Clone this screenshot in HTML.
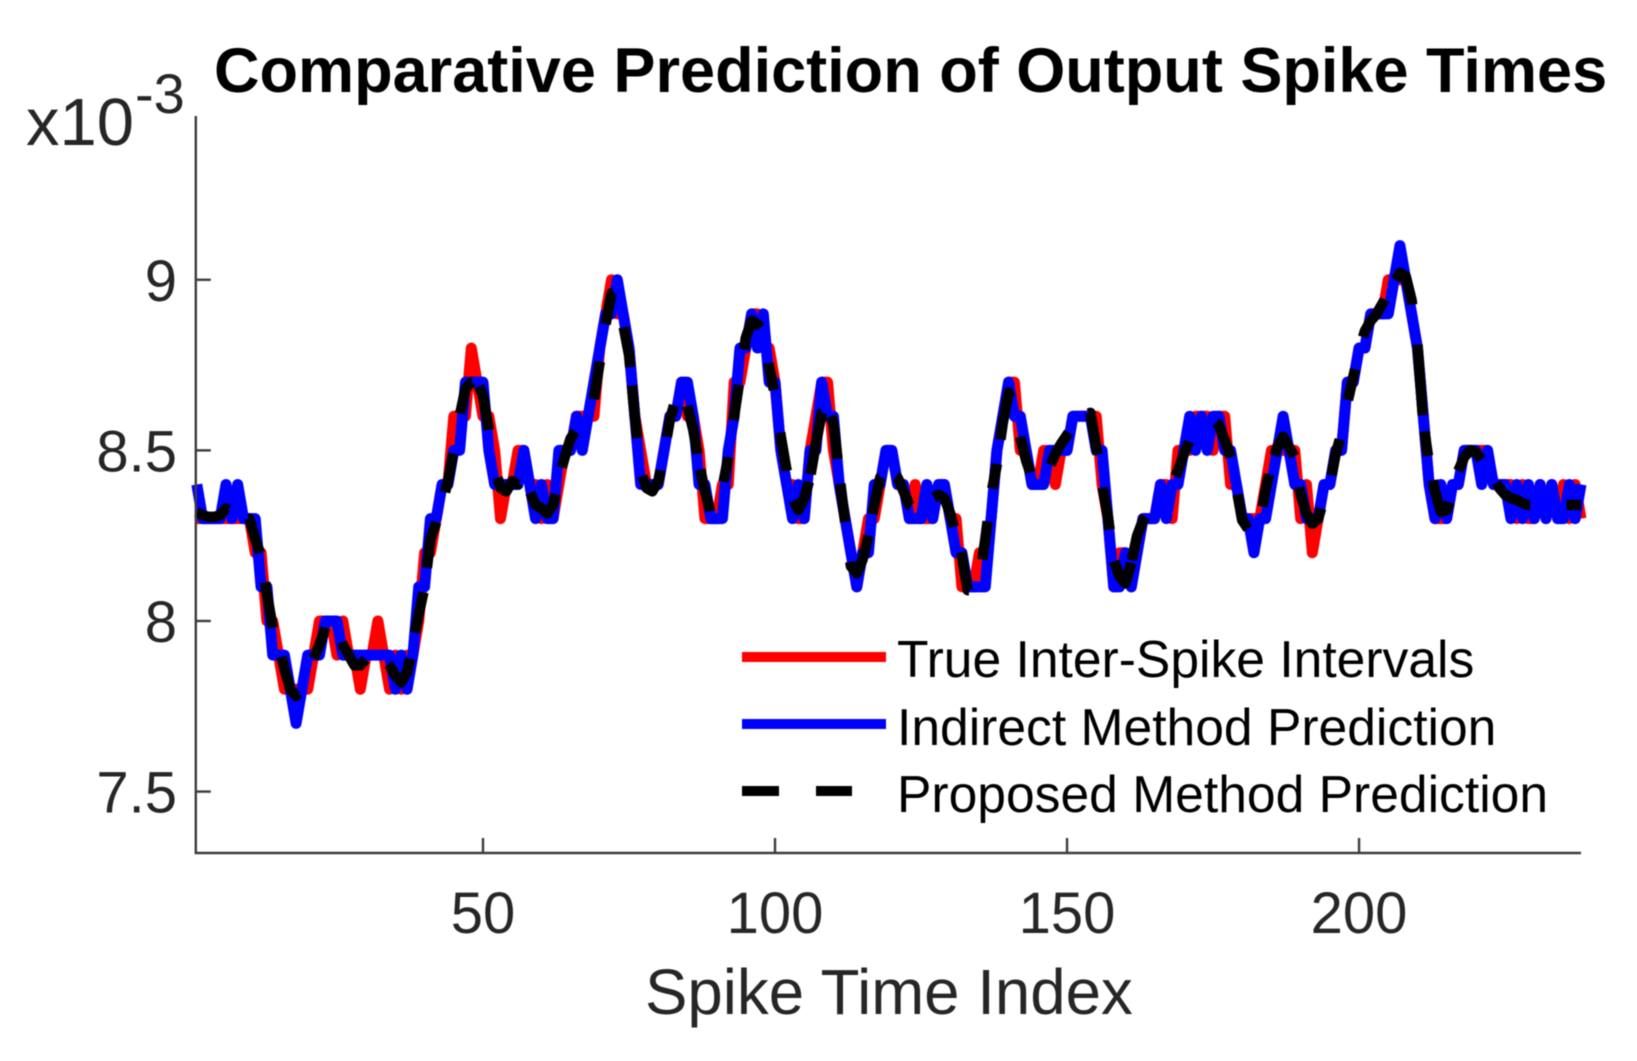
<!DOCTYPE html>
<html lang="en">
<head>
<meta charset="utf-8">
<title>Comparative Prediction of Output Spike Times</title>
<style>
html,body{margin:0;padding:0;background:#fff;}
svg{display:block;font-family:"Liberation Sans",Arial,sans-serif;filter:blur(0.5px);}
</style>
</head>
<body>
<svg id="chart" xmlns="http://www.w3.org/2000/svg" width="1637" height="1061" viewBox="0 0 1637 1061">
  <rect x="0" y="0" width="1637" height="1061" fill="#fff"/>
  <g id="series"></g>
  <g id="axes"></g>
  <text x="214" y="92" font-size="63.05" font-weight="700" fill="#000">Comparative Prediction of Output Spike Times</text>
  <text x="645" y="1014" font-size="63.6" fill="#262626">Spike Time Index</text>
  <text x="26" y="145" font-size="67" fill="#262626">x10</text>
  <text x="135" y="113" font-size="56" fill="#262626">-3</text>
  <g>
    <g>
      <line x1="742" y1="657" x2="886" y2="657" stroke="#ff0000" stroke-width="10"/>
      <text x="897" y="677" font-size="51.6" fill="#000">True Inter-Spike Intervals</text>
    </g>
    <g>
      <line x1="742" y1="724" x2="886" y2="724" stroke="#0000ff" stroke-width="10"/>
      <text x="897" y="745" font-size="51.6" fill="#000">Indirect Method Prediction</text>
    </g>
    <g>
      <line x1="742" y1="791" x2="852" y2="791" stroke="#000" stroke-width="10" stroke-dasharray="37 37"/>
      <text x="897" y="812" font-size="51.6" fill="#000">Proposed Method Prediction</text>
    </g>
  </g>
</svg>
<script>
const xTicks = [50, 100, 150, 200];
const yTicks = [7.5, 8, 8.5, 9];
const yTickLabels = ["7.5", "8", "8.5", "9"];

const trueIntervals = [
8.3,8.3,8.3,8.3,8.3,8.3,8.3,8.3,8.3,8.3,
8.2,8.2,8.0,8.0,7.9,7.8,7.8,7.8,7.8,7.8,
7.9,8.0,8.0,8.0,7.9,8.0,7.9,7.9,7.8,7.9,
7.9,8.0,7.9,7.8,7.9,7.8,7.9,7.9,8.0,8.2,
8.2,8.3,8.4,8.4,8.6,8.6,8.6,8.8,8.7,8.6,
8.6,8.5,8.3,8.4,8.4,8.5,8.5,8.4,8.4,8.3,
8.4,8.3,8.4,8.5,8.5,8.6,8.6,8.6,8.6,8.8,
8.9,9.0,8.9,8.9,8.8,8.6,8.5,8.4,8.4,8.4,
8.5,8.6,8.6,8.7,8.6,8.6,8.5,8.3,8.3,8.3,
8.4,8.4,8.7,8.7,8.8,8.9,8.9,8.8,8.8,8.7,
8.5,8.4,8.4,8.3,8.3,8.5,8.6,8.7,8.7,8.5,
8.4,8.3,8.2,8.1,8.2,8.3,8.3,8.4,8.5,8.5,
8.4,8.4,8.3,8.4,8.3,8.3,8.3,8.4,8.4,8.3,
8.3,8.1,8.1,8.1,8.2,8.2,8.3,8.5,8.6,8.7,
8.7,8.5,8.5,8.4,8.4,8.5,8.5,8.4,8.5,8.5,
8.6,8.6,8.6,8.6,8.6,8.4,8.3,8.1,8.2,8.2,
8.1,8.2,8.3,8.3,8.3,8.4,8.4,8.3,8.5,8.5,
8.5,8.6,8.6,8.6,8.5,8.6,8.6,8.4,8.4,8.3,
8.3,8.3,8.3,8.4,8.5,8.5,8.5,8.5,8.5,8.3,
8.4,8.2,8.3,8.4,8.4,8.5,8.5,8.7,8.7,8.8,
8.8,8.9,8.9,8.9,9.0,9.0,9.0,9.0,8.9,8.8,
8.6,8.4,8.3,8.3,8.3,8.4,8.4,8.5,8.5,8.5,
8.5,8.5,8.4,8.4,8.4,8.4,8.3,8.4,8.3,8.3,
8.4,8.3,8.4,8.3,8.4,8.3,8.4,8.3];

const indirectPrediction = [
8.4,8.3,8.3,8.3,8.3,8.4,8.3,8.4,8.3,8.3,
8.3,8.1,8.1,7.9,7.9,7.9,7.8,7.7,7.8,7.9,
7.9,7.9,8.0,8.0,8.0,7.9,7.9,7.9,7.9,7.9,
7.9,7.9,7.9,7.9,7.8,7.9,7.8,7.9,8.1,8.1,
8.3,8.3,8.4,8.4,8.5,8.5,8.7,8.7,8.7,8.7,
8.5,8.4,8.4,8.4,8.4,8.4,8.5,8.4,8.3,8.4,
8.3,8.3,8.5,8.5,8.5,8.6,8.5,8.6,8.7,8.8,
8.9,8.9,9.0,8.9,8.8,8.6,8.4,8.4,8.4,8.4,
8.5,8.6,8.6,8.7,8.7,8.6,8.4,8.4,8.3,8.3,
8.3,8.5,8.6,8.8,8.8,8.9,8.8,8.9,8.7,8.7,
8.5,8.4,8.3,8.4,8.3,8.5,8.5,8.7,8.6,8.6,
8.4,8.3,8.2,8.1,8.2,8.2,8.4,8.4,8.5,8.5,
8.4,8.4,8.3,8.3,8.3,8.4,8.3,8.4,8.4,8.3,
8.2,8.2,8.1,8.1,8.1,8.1,8.3,8.5,8.6,8.7,
8.6,8.6,8.5,8.4,8.4,8.4,8.5,8.5,8.5,8.5,
8.6,8.6,8.6,8.6,8.5,8.5,8.3,8.1,8.1,8.2,
8.1,8.2,8.3,8.3,8.3,8.4,8.3,8.4,8.4,8.5,
8.6,8.5,8.6,8.5,8.6,8.6,8.5,8.5,8.4,8.3,
8.3,8.2,8.3,8.3,8.4,8.5,8.6,8.5,8.4,8.4,
8.3,8.3,8.3,8.4,8.4,8.5,8.5,8.7,8.7,8.8,
8.8,8.9,8.9,8.9,8.9,9.0,9.1,9.0,8.9,8.8,
8.6,8.4,8.3,8.4,8.3,8.4,8.4,8.5,8.5,8.5,
8.4,8.5,8.4,8.4,8.4,8.3,8.4,8.3,8.4,8.3,
8.4,8.3,8.4,8.3,8.3,8.4,8.3,8.4];

const proposedPrediction = [
8.32,8.31,8.305,8.305,8.31,8.33,8.32,8.31,8.30,8.30,
8.24,8.19,8.08,7.98,7.93,7.86,7.80,7.78,7.84,7.87,
7.89,7.93,7.98,8.0,7.97,7.93,7.90,7.87,7.87,7.89,
7.90,7.90,7.89,7.87,7.84,7.82,7.85,7.93,8.02,8.1,
8.24,8.29,8.345,8.41,8.5,8.6,8.68,8.70,8.70,8.66,
8.56,8.45,8.39,8.38,8.41,8.40,8.42,8.38,8.34,8.33,
8.315,8.34,8.42,8.48,8.535,8.56,8.56,8.58,8.65,8.76,
8.87,8.96,8.97,8.87,8.78,8.6,8.44,8.39,8.38,8.41,
8.49,8.59,8.65,8.68,8.63,8.56,8.46,8.38,8.315,8.30,
8.39,8.48,8.6,8.715,8.83,8.88,8.87,8.85,8.745,8.66,
8.54,8.44,8.36,8.325,8.36,8.42,8.52,8.61,8.62,8.58,
8.43,8.29,8.16,8.14,8.18,8.25,8.34,8.42,8.43,8.43,
8.42,8.38,8.34,8.33,8.33,8.33,8.36,8.37,8.36,8.315,
8.25,8.19,8.09,8.09,8.12,8.24,8.37,8.46,8.58,8.67,
8.62,8.54,8.47,8.42,8.41,8.42,8.45,8.49,8.52,8.545,
8.57,8.59,8.60,8.61,8.51,8.40,8.305,8.18,8.13,8.11,
8.17,8.25,8.295,8.32,8.33,8.35,8.35,8.40,8.44,8.49,
8.53,8.54,8.55,8.57,8.59,8.574,8.53,8.48,8.39,8.295,
8.27,8.28,8.285,8.385,8.46,8.51,8.54,8.51,8.48,8.37,
8.315,8.285,8.30,8.36,8.40,8.49,8.55,8.64,8.715,8.79,
8.85,8.88,8.90,8.93,8.96,8.99,9.02,9.01,8.94,8.81,
8.58,8.46,8.38,8.32,8.325,8.37,8.44,8.48,8.50,8.495,
8.47,8.44,8.42,8.39,8.37,8.36,8.355,8.345,8.34,8.34,
8.34,8.34,8.34,8.34,8.34,8.34,8.34,8.34];

// Spike-index ranges where the dashed series is inked.
const dashFromIndex = [1,9.8,12.7,15.5,21,25.8,33.8,38.4,40.4,43.5,46.1,49.3,52.5,58.1,63.5,69,71,74.1,75.5,77.3,81.5,85,87.2,91.2,92.9,94.7,98.9,100.9,103.2,106.1,109.5,111.2,112.9,116.7,120.7,127.2,131.8,135.5,137.2,138.6,142,147.2,153.8,156.1,158.1,161.1,168.6,175.5,179.2,183.5,185.5,189.8,195.3,198.1,200.7,206.3,210,211.2,212.6,217,223.5,235.5];
const dashToIndex = [6.4,11.8,14,18.1,23,29.9,37.5,39.8,42,44.9,48.1,51,56.2,62.4,65.8,70,72.4,75.2,76.4,80.4,82.7,86.7,88.9,92,93.8,97.5,99.8,102,105.8,108.1,110.7,112,116,118.1,123.3,130.6,133.2,136.4,138,140.3,143.7,150.3,155.2,157.3,161,163.4,170.9,178,181,184.6,188.9,193.5,196.7,199.3,204.4,209.1,210.9,211.8,215.5,220.9,229.3,238];

const xDomain = [1, 238];
const yDomain = [7.32, 9.48];
const plotLeft = 196.8, plotRight = 1581, plotTop = 116, plotBottom = 853;
const NS = "http://www.w3.org/2000/svg";

function xScale(v) {
  return plotLeft + (v - xDomain[0]) / (xDomain[1] - xDomain[0]) * (plotRight - plotLeft);
}
function yScale(v) {
  return plotBottom - (v - yDomain[0]) / (yDomain[1] - yDomain[0]) * (plotBottom - plotTop);
}
function valueAt(values, idx) {
  const lo = Math.floor(idx), hi = Math.min(lo + 1, values.length);
  return values[lo - 1] + (values[hi - 1] - values[lo - 1]) * (idx - lo);
}
function linePath(values) {
  return values.map(function (v, i) {
    return (i ? "L" : "M") + xScale(i + 1).toFixed(2) + " " + yScale(v).toFixed(2);
  }).join("");
}
function dashedPath(values, froms, tos) {
  let d = "";
  froms.forEach(function (from, k) {
    const to = tos[k];
    d += "M" + xScale(from).toFixed(2) + " " + yScale(valueAt(values, from)).toFixed(2);
    for (let i = Math.floor(from) + 1; i < to; i++) {
      d += "L" + xScale(i).toFixed(2) + " " + yScale(values[i - 1]).toFixed(2);
    }
    d += "L" + xScale(to).toFixed(2) + " " + yScale(valueAt(values, to)).toFixed(2);
  });
  return d;
}
function makeSeries(d, color, width) {
  const p = document.createElementNS(NS, "path");
  p.setAttribute("d", d);
  p.setAttribute("fill", "none");
  p.setAttribute("stroke", color);
  p.setAttribute("stroke-width", width);
  p.setAttribute("stroke-linejoin", "round");
  document.getElementById("series").appendChild(p);
  return p;
}
function makeLine(x1, y1, x2, y2) {
  const l = document.createElementNS(NS, "line");
  l.setAttribute("x1", x1);
  l.setAttribute("y1", y1);
  l.setAttribute("x2", x2);
  l.setAttribute("y2", y2);
  l.setAttribute("stroke", "#3c3c3c");
  l.setAttribute("stroke-width", "2.4");
  document.getElementById("axes").appendChild(l);
  return l;
}
function makeLabel(x, y, text, anchor) {
  const t = document.createElementNS(NS, "text");
  t.setAttribute("x", x);
  t.setAttribute("y", y);
  t.setAttribute("font-size", "58");
  t.setAttribute("fill", "#262626");
  t.setAttribute("text-anchor", anchor);
  t.textContent = text;
  document.getElementById("axes").appendChild(t);
  return t;
}

const redLine = makeSeries(linePath(trueIntervals), "#ff0000", "11");


const blueLine = makeSeries(linePath(indirectPrediction), "#0000ff", "11");


const blackLine = makeSeries(dashedPath(proposedPrediction, dashFromIndex, dashToIndex), "#000000", "10.5");



const yAxisLine = makeLine(plotLeft - 1, plotTop, plotLeft - 1, plotBottom + 1);


const xAxisLine = makeLine(plotLeft - 2, plotBottom, plotRight, plotBottom);



xTicks.forEach(function (v) {
  const tick = makeLine(xScale(v), plotBottom, xScale(v), plotBottom - 15);
  
  
  const label = makeLabel(xScale(v), 933, String(v), "middle");
  
  
});
yTicks.forEach(function (v, i) {
  const tick = makeLine(plotLeft - 1, yScale(v), plotLeft + 14, yScale(v));
  
  
  const label = makeLabel(177, yScale(v) + 21, yTickLabels[i], "end");
  
  
});
</script>
</body>
</html>
